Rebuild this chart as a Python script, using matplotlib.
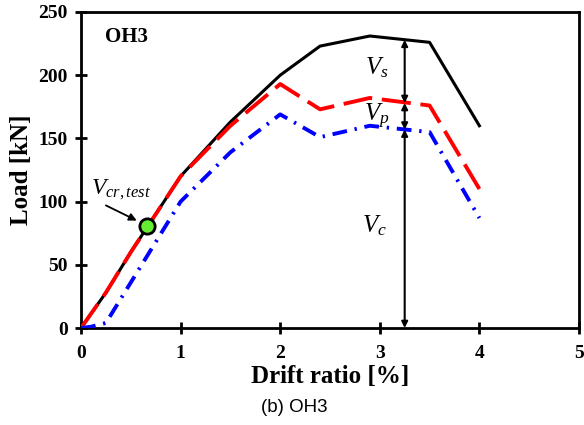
import matplotlib
matplotlib.use("Agg")
import matplotlib.pyplot as plt

plt.rcParams["font.family"] = "Liberation Serif"
plt.rcParams["mathtext.fontset"] = "custom"
plt.rcParams["mathtext.it"] = "Liberation Serif:italic"
plt.rcParams["mathtext.rm"] = "Liberation Serif"

# load-drift envelopes for OH3
drift = [0, 0.25, 0.5, 1.0, 1.5, 2.0, 2.4, 2.9, 3.5, 4.0]
load_total = [0, 28, 60, 120, 163, 200, 223, 231, 226, 160]
load_red = [0, 28, 60, 120, 160, 193, 173, 182, 176, 110]
drift_blue = [0, 0.1, 0.25, 1.0, 1.5, 2.0, 2.4, 2.9, 3.5, 4.0]
load_blue = [0, 1, 4, 100, 139, 169, 151, 160, 155, 87]

# cracking point
crack_drift = 0.66
crack_load = 81

# shear components at drift 3.25 %
comp_drift = 3.25
v_top = 228
v_mid = 178
v_low = 157

fig = plt.figure(figsize=(5.84, 4.25), dpi=100)
ax = fig.add_axes([0.1387, 0.2282, 0.8527, 0.7436])

ax.plot(drift, load_total, color="black", lw=2.2, zorder=3)
ax.plot(drift, load_red, color="red", lw=2.8, dashes=(7.5, 2.5), zorder=4)
ax.plot(drift_blue, load_blue, color="blue", lw=2.8, dashes=(3.8, 2, 0.6, 2), zorder=4)
ax.plot(crack_drift, crack_load, "o", ms=11, mfc="#66ee33", mec="black", mew=2, zorder=6)

# component arrows
arw = dict(arrowstyle="<|-|>", color="black", lw=1.5, mutation_scale=9, shrinkA=0, shrinkB=0)
ax.annotate("", xy=(comp_drift, v_top), xytext=(comp_drift, v_mid), arrowprops=arw, zorder=5)
ax.annotate("", xy=(comp_drift, v_mid), xytext=(comp_drift, v_low), arrowprops=arw, zorder=5)
ax.annotate("", xy=(comp_drift, v_low), xytext=(comp_drift, 0), arrowprops=arw, zorder=5)

ax.text(2.97, 206, r"$V_s$", fontsize=18, ha="center", va="center")
ax.text(2.97, 167, r"$V_p$", fontsize=18, ha="center", va="center")
ax.text(2.95, 81, r"$V_c$", fontsize=18, ha="center", va="center")
ax.text(0.4, 109, r"$V_{cr,test}$", fontsize=17, ha="center", va="center")
ax.annotate("", xy=(0.56, 85), xytext=(0.25, 97),
            arrowprops=dict(arrowstyle="-|>", color="black", lw=1.3, mutation_scale=11,
                            shrinkA=0, shrinkB=0))

ax.text(0.24, 230, "OH3", fontsize=15, fontweight="bold", ha="left", va="center")

ax.set_xlim(0, 5)
ax.set_ylim(0, 250)
ax.set_xticks([0, 1, 2, 3, 4, 5])
ax.set_yticks([0, 50, 100, 150, 200, 250])
ax.tick_params(direction="inout", length=9, width=2, labelsize=14, pad=5)
ax.tick_params(axis="x", pad=8)
for lbl in ax.get_xticklabels() + ax.get_yticklabels():
    lbl.set_fontweight("bold")
for sp in ax.spines.values():
    sp.set_linewidth(2)

ax.set_xlabel("Drift ratio [%]", fontsize=18, fontweight="bold", labelpad=2)
ax.set_ylabel("Load [kN]", fontsize=18, fontweight="bold", labelpad=4)

fig.text(0.503, 0.042, "(b) OH3", fontsize=13.5, family="Liberation Sans", ha="center", va="center")

fig.savefig("out.png", dpi=100)
